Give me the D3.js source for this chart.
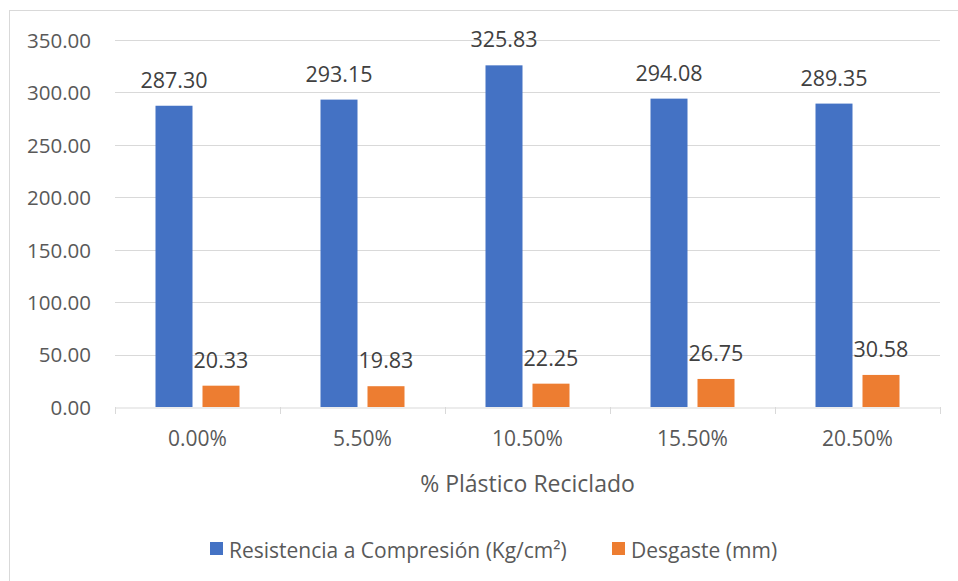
<!DOCTYPE html>
<html><head><meta charset="utf-8">
<script src="https://cdn.jsdelivr.net/npm/d3@7"></script>
<style>body{margin:0;background:#fff;} svg{display:block;} text{font-family:"Open Sans",sans-serif;}</style>
</head><body>
<svg id="c" width="958" height="581"></svg>
<script>
const categories = ["0.00%","5.50%","10.50%","15.50%","20.50%"];
const resistencia = [287.30, 293.15, 325.83, 294.08, 289.35];
const desgaste = [20.33, 19.83, 22.25, 26.75, 30.58];
const seriesNames = ["Resistencia a Compresión (Kg/cm²)", "Desgaste (mm)"];
const colors = ["#4472c4", "#ed7d31"];
const yTicks = [0, 50, 100, 150, 200, 250, 300, 350];

(function(){
const svg = d3.select("#c");
svg.append("rect").attr("x",9.5).attr("y",10.5).attr("width",980).attr("height",600)
  .attr("fill","#fff").attr("stroke","#d9d9d9").attr("stroke-width",1);

const pL=115, pR=940, pT=40, pB=407;
const x = d3.scaleBand().domain(categories).range([pL,pR]);
const y = d3.scaleLinear().domain([0,350]).range([pB,pT]);

svg.append("g").selectAll("line").data(yTicks.filter(d=>d>0)).join("line")
  .attr("x1",pL).attr("x2",pR).attr("y1",d=>Math.round(y(d))+0.5).attr("y2",d=>Math.round(y(d))+0.5)
  .attr("stroke","#d9d9d9").attr("stroke-width",1);

const yAxis = d3.axisLeft(y).tickValues(yTicks).tickFormat(d3.format(".2f")).tickSize(0).tickPadding(0);
const gy = svg.append("g").attr("transform",`translate(${pL-24},0)`).call(yAxis);
gy.select(".domain").remove();
gy.selectAll("text").attr("fill","#595959").attr("dy","0.36em").style("font-size","20.5px").style("font-family","'Open Sans',sans-serif");

const xAxis = d3.axisBottom(x).tickSize(0).tickPadding(0);
const gx = svg.append("g").attr("transform",`translate(0,${Math.round(pB)+0.5})`).call(xAxis);
gx.select(".domain").attr("stroke","#d9d9d9");
gx.selectAll("text").attr("fill","#595959").attr("y",38).attr("dy",null).style("font-size","21px").style("font-family","'Open Sans',sans-serif");
svg.append("g").selectAll("line").data(categories.map(c=>x(c)).concat([pR])).join("line")
  .attr("x1",d=>Math.round(d)+0.5).attr("x2",d=>Math.round(d)+0.5).attr("y1",pB).attr("y2",pB+7)
  .attr("stroke","#d9d9d9");

const barW = 37, gap = 10;
const series = [resistencia, desgaste];
series.forEach((vals,si)=>{
  const off = si===0 ? -gap/2-barW : gap/2;
  const g = svg.append("g");
  g.selectAll("rect").data(vals).join("rect")
    .attr("x",(d,i)=>x(categories[i])+x.bandwidth()/2+off)
    .attr("y",d=>y(d)).attr("width",barW).attr("height",d=>y(0)-y(d))
    .attr("fill",colors[si]);
  g.selectAll("text").data(vals).join("text")
    .attr("x",(d,i)=>x(categories[i])+x.bandwidth()/2+off+barW/2)
    .attr("y",d=>y(d)-18)
    .attr("text-anchor","middle").attr("fill","#404040").style("font-size","21.5px")
    .text(d=>d3.format(".2f")(d));
});

svg.append("text").attr("x",(pL+pR)/2).attr("y",492).attr("text-anchor","middle")
  .attr("fill","#595959").style("font-size","23px").text("% Plástico Reciclado");

const legX = [210, 612];
const legW = [356, 142];
seriesNames.forEach((n,i)=>{
  svg.append("rect").attr("x",legX[i]).attr("y",542).attr("width",13).attr("height",13).attr("fill",colors[i]);
  svg.append("text").attr("x",legX[i]+19).attr("y",558).attr("fill","#595959").style("font-size","21px").text(n);
});
})();
</script>
</body></html>
